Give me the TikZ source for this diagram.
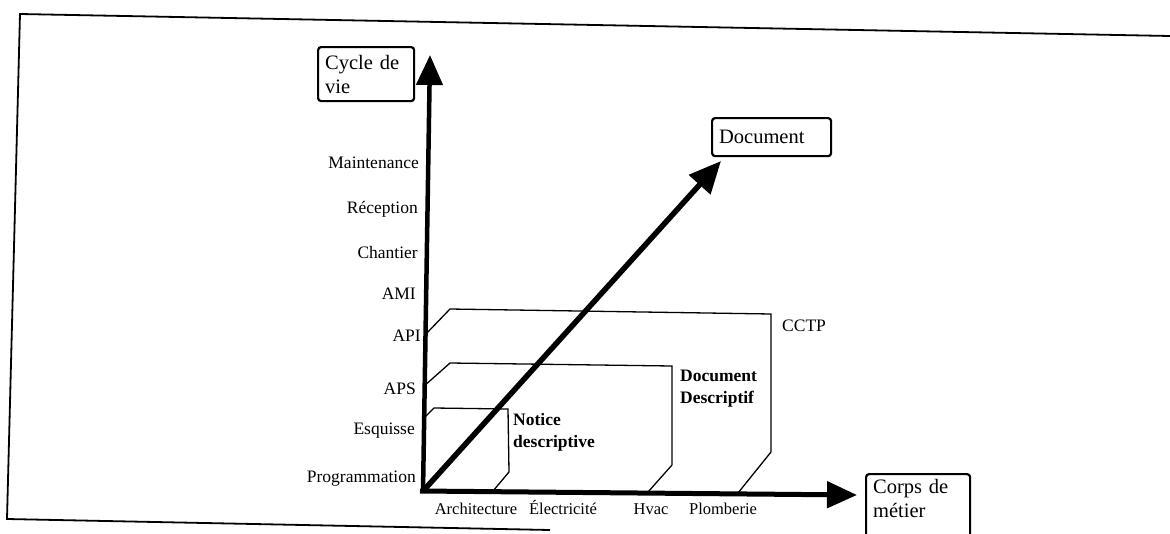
\documentclass[tikz,border=0pt]{standalone}
\usepackage{fontspec}
\setmainfont{Liberation Serif}
\usetikzlibrary{arrows.meta}
\begin{document}
\begin{tikzpicture}[x=1pt,y=-1pt,
  ylab/.style={anchor=base east, font=\fontsize{17.5}{20}\selectfont, inner sep=0pt},
  xlab/.style={anchor=base, font=\fontsize{16.5}{19}\selectfont, inner sep=0pt},
  axisbox/.style={draw, line width=2.2pt, rounded corners=3pt,
    font=\fontsize{20.5}{24}\selectfont, align=left, anchor=north west,
    inner xsep=7pt, inner ysep=3pt},
  boxline/.style={line width=1.3pt},
  axisline/.style={line width=4.5pt, -{Triangle[length=30pt,width=26pt]}},
  doclab/.style={font=\fontsize{17.5}{22}\selectfont\bfseries, align=left,
    anchor=north west, inner sep=0pt}
]
\useasboundingbox (0,0) rectangle (1170,533);
% outer frame
\draw[line width=1.8pt] (1170,36) -- (20,14) -- (7,519) -- (550,530);

% axes coordinates
\coordinate (O) at (424,490);
\coordinate (ytip) at (430,55);
\coordinate (xtip) at (857,495);
\coordinate (dtip) at (721,161);

% nested document zones
\draw[boxline] (423,419) -- (434,408) -- (508,409) -- (509,472) -- (493,491);
\draw[boxline] (423,387) -- (450,363) -- (672,366) -- (672,465) -- (648,492);
\draw[boxline] (425,335) -- (450,309) -- (771,314) -- (771,452) -- (738,493);

% labels of zones
\node[doclab] (notice) at (513,413) {Notice\\descriptive};
\node[doclab] (docdesc) at (680,370) {Document\\Descriptif};
\node[anchor=base west, font=\fontsize{17.5}{20}\selectfont, inner sep=0pt] (cctp) at (782,331) {CCTP};

% axes
\draw[axisline] (423,492) -- (ytip);
\draw[axisline, line width=5pt] (420,491) -- (xtip);
\draw[line width=5.5pt, -{Triangle[length=32pt,width=28pt]}] (O) -- (dtip);

% axis title boxes
\node[axisbox, text width=82pt, minimum height=54pt] (cycle) at (317,46) {Cycle de\\vie};
\node[axisbox, text width=105pt, minimum height=38pt] (doc) at (711,117) {Document};
\node[axisbox, text width=90pt, inner ysep=5pt, text depth=45pt] (corps) at (865,473) {Corps de\\métier};

% y labels
\node[ylab] (l1) at (419,168) {Maintenance};
\node[ylab] (l2) at (418,213) {Réception};
\node[ylab] (l3) at (418,258) {Chantier};
\node[ylab] (l4) at (416,299) {AMI};
\node[ylab] (l5) at (421,341) {API};
\node[ylab] (l6) at (416,394) {APS};
\node[ylab] (l7) at (415,434) {Esquisse};
\node[ylab] (l8) at (416,482) {Programmation};

% x labels
\node[xlab] (m1) at (476,514) {Architecture};
\node[xlab] (m2) at (563,514) {Électricité};
\node[xlab] (m3) at (651,514) {Hvac};
\node[xlab] (m4) at (723,514) {Plomberie};
\end{tikzpicture}
\end{document}
